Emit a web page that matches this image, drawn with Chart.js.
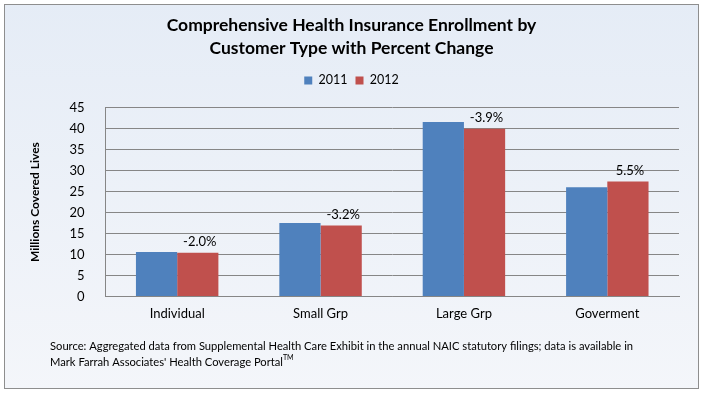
<!DOCTYPE html>
<html>
<head>
<meta charset="utf-8">
<script src="https://cdn.jsdelivr.net/npm/chart.js@4.4.1/dist/chart.umd.min.js"></script>
<style>
  html,body{margin:0;padding:0;background:#fff;}
  #wrap{width:703px;height:394px;position:relative;}
</style>
</head>
<body>
<div id="wrap"><canvas id="chart" width="703" height="394"></canvas></div>
<script>
/* DATA */
const categories = ["Individual", "Small Grp", "Large Grp", "Goverment"];
const series2011 = [10.6, 17.5, 41.6, 26.0];
const series2012 = [10.4, 16.9, 40.0, 27.4];
const pctChange  = ["-2.0%", "-3.2%", "-3.9%", "5.5%"];
const yTicks     = [0, 5, 10, 15, 20, 25, 30, 35, 40, 45];

const FONT = "Lato, 'Open Sans', sans-serif";
const sourceLines = [
  "Source: Aggregated data from Supplemental Health Care Exhibit in the annual NAIC statutory filings; data is available in",
  "Mark Farrah Associates' Health Coverage Portal"
];

/* background + border + source note */
const frame = {
  id: "frame",
  afterInit(c){
    // extra room between legend and plot area
    const lg = c.legend;
    if(lg){
      const fit = lg.fit;
      lg.fit = function(){ fit.call(this); this.height += 11; };
    }
  },
  beforeDraw(c){
    const ctx = c.ctx;
    ctx.save();
    const g = ctx.createLinearGradient(0, 0, 0, c.height);
    g.addColorStop(0, "#e5ecf6");
    g.addColorStop(1, "#f4f6fa");
    ctx.fillStyle = "#ffffff";
    ctx.fillRect(0, 0, c.width, c.height);
    ctx.fillStyle = g;
    ctx.fillRect(4, 4, 694, 384);
    ctx.strokeStyle = "#8e8e8e";
    ctx.lineWidth = 1;
    ctx.strokeRect(4.5, 4.5, 694, 384);
    ctx.restore();
  },
  afterDraw(c){
    const ctx = c.ctx;
    ctx.save();
    ctx.fillStyle = "#000";
    ctx.font = "11.2px " + FONT;
    ctx.textBaseline = "middle";
    ctx.fillText(sourceLines[0], 50, 346);
    ctx.fillText(sourceLines[1], 50, 362);
    const w = ctx.measureText(sourceLines[1]).width;
    ctx.font = "7px " + FONT;
    ctx.fillText("TM", 50 + w, 358);
    ctx.restore();
  }
};

/* percent change labels over the 2012 bars */
const pctLabels = {
  id: "pctLabels",
  afterDatasetsDraw(c){
    const ctx = c.ctx;
    const meta = c.getDatasetMeta(1);
    ctx.save();
    ctx.fillStyle = "#000";
    ctx.font = "13px " + FONT;
    ctx.textAlign = "center";
    ctx.textBaseline = "bottom";
    meta.data.forEach((bar, i) => {
      ctx.fillText(pctChange[i], bar.x + 2, bar.y - 4);
    });
    ctx.restore();
  }
};

new Chart(document.getElementById("chart"), {
  type: "bar",
  data: {
    labels: categories,
    datasets: [
      { label: "2011", data: series2011, backgroundColor: "#4f81bd" },
      { label: "2012", data: series2012, backgroundColor: "#c0504d" }
    ]
  },
  options: {
    responsive: false,
    animation: false,
    layout: { padding: { left: 24, right: 24, top: 10, bottom: 62 } },
    datasets: { bar: { categoryPercentage: 0.575, barPercentage: 1.0 } },
    plugins: {
      title: {
        display: true,
        text: ["Comprehensive Health Insurance Enrollment by", "Customer Type with Percent Change"],
        color: "#000",
        font: { family: FONT, size: 17.5, weight: "bold", lineHeight: 1.32 },
        padding: { top: 4, bottom: 6 }
      },
      legend: {
        display: true,
        labels: {
          color: "#000",
          boxWidth: 8, boxHeight: 8,
          padding: 8,
          font: { family: FONT, size: 12.5 }
        }
      },
      tooltip: { enabled: false }
    },
    scales: {
      x: {
        grid: { display: false, drawTicks: false },
        border: { color: "#868686" },
        ticks: { color: "#000", font: { family: FONT, size: 13 }, padding: 10 }
      },
      y: {
        min: 0, max: 45,
        afterBuildTicks(s){ s.ticks = yTicks.map(v => ({ value: v })); },
        grid: { color: "#868686", drawTicks: false },
        border: { color: "#868686" },
        ticks: { color: "#000", font: { family: FONT, size: 13 }, padding: 21 },
        title: {
          display: true, text: "Millions Covered Lives", color: "#000",
          font: { family: FONT, size: 12, weight: "bold" }, padding: { bottom: 6 }
        }
      }
    }
  },
  plugins: [frame, pctLabels]
});
</script>
</body>
</html>
